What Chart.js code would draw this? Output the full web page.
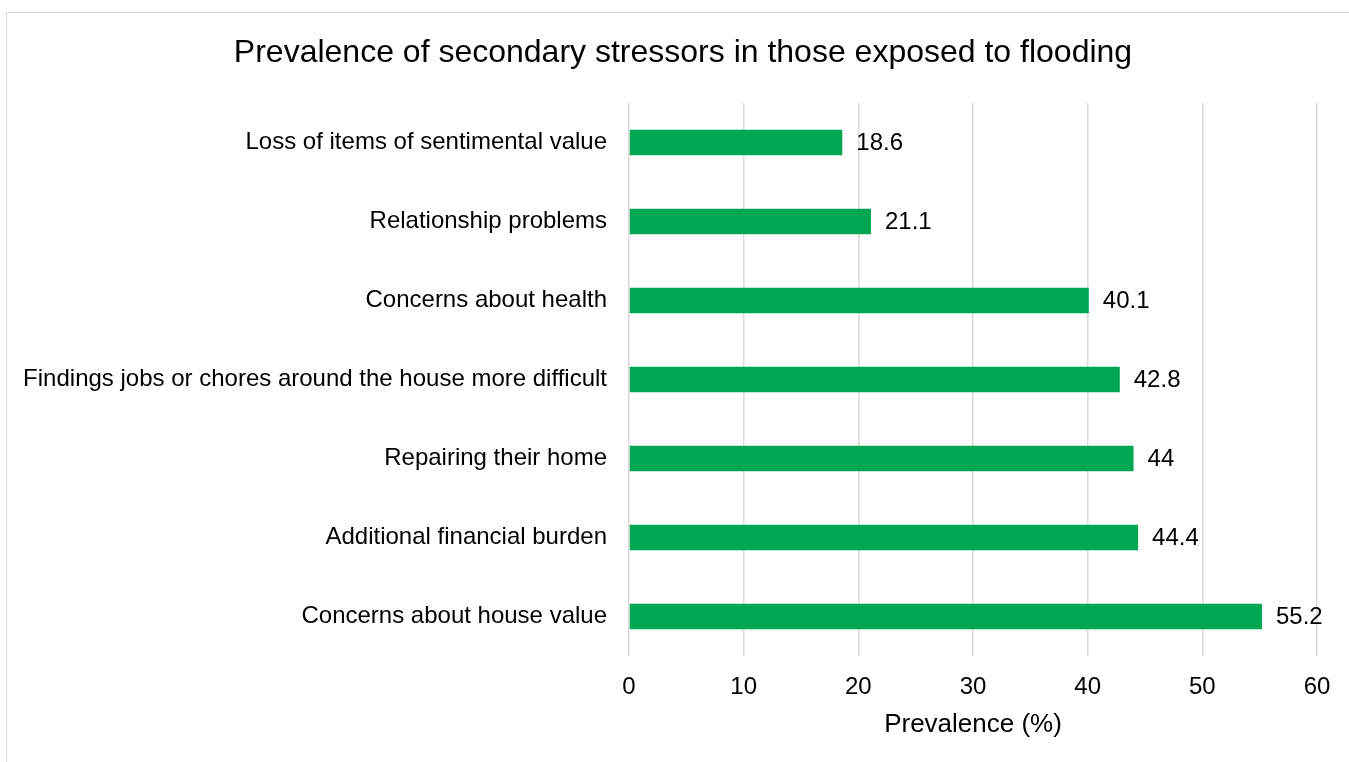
<!DOCTYPE html>
<html>
<head>
<meta charset="utf-8">
<script src="https://cdn.jsdelivr.net/npm/chart.js@4"></script>
<style>
  html, body { margin: 0; padding: 0; background: #fff; overflow: hidden; }
  #frame { position: absolute; left: 6px; top: 12px; width: 1400px; height: 800px; border: 1px solid #d9d9d9; }
  #wrap { position: absolute; left: 0; top: 0; width: 1349px; height: 762px; }
</style>
</head>
<body>
<div id="frame"></div>
<div id="wrap"><canvas id="stressChart"></canvas></div>
<script>
const categories = [
  'Loss of items of sentimental value',
  'Relationship problems',
  'Concerns about health',
  'Findings jobs or chores around the house more difficult',
  'Repairing their home',
  'Additional financial burden',
  'Concerns about house value'
];
const prevalence = [18.6, 21.1, 40.1, 42.8, 44, 44.4, 55.2];
const xTicks = [0, 10, 20, 30, 40, 50, 60];
const chartTitle = 'Prevalence of secondary stressors in those exposed to flooding';

const fontFamily = "'Liberation Sans', Arial, sans-serif";

// title is centred on the outer frame, not on the canvas, so draw it ourselves
const frameTitle = {
  id: 'frameTitle',
  afterDraw(chart) {
    const ctx = chart.ctx;
    ctx.save();
    ctx.font = `32px ${fontFamily}`;
    ctx.fillStyle = '#000';
    ctx.textAlign = 'center';
    ctx.textBaseline = 'middle';
    ctx.fillText(chartTitle, 683, 53);
    ctx.restore();
  }
};

// draws the value to the right of each bar
const valueLabels = {
  id: 'valueLabels',
  afterDatasetsDraw(chart) {
    const ctx = chart.ctx;
    const meta = chart.getDatasetMeta(0);
    ctx.save();
    ctx.font = `24px ${fontFamily}`;
    ctx.fillStyle = '#000';
    ctx.textAlign = 'left';
    ctx.textBaseline = 'middle';
    meta.data.forEach((bar, i) => {
      ctx.fillText(String(prevalence[i]), bar.x + 14, bar.y + 1);
    });
    ctx.restore();
  }
};

new Chart(document.getElementById('stressChart'), {
  type: 'bar',
  data: {
    labels: categories,
    datasets: [{
      label: 'Prevalence',
      data: prevalence,
      backgroundColor: '#00A651',
      borderWidth: 0,
      categoryPercentage: 1,
      barPercentage: 0.32
    }]
  },
  options: {
    indexAxis: 'y',
    responsive: true,
    maintainAspectRatio: false,
    animation: false,
    layout: { padding: { left: 0, right: 32, top: 103, bottom: 0 } },
    plugins: {
      legend: { display: false },
      tooltip: { enabled: false },
      title: { display: false }
    },
    scales: {
      x: {
        min: 0,
        max: 60,
        afterBuildTicks(scale) {
          scale.ticks = xTicks.map(v => ({ value: v }));
        },
        afterFit(scale) { scale.height = 106; },
        grid: { color: '#d9d9d9', lineWidth: 1.5, drawTicks: false },
        border: { display: false },
        ticks: {
          color: '#000',
          padding: 17,
          font: { family: fontFamily, size: 24 }
        },
        title: {
          display: true,
          text: 'Prevalence (%)',
          color: '#000',
          font: { family: fontFamily, size: 26 },
          padding: { top: 4, bottom: 22 }
        }
      },
      y: {
        afterFit(scale) { scale.width = 629; },
        grid: { display: false, drawTicks: false },
        border: { display: false },
        ticks: {
          color: '#000',
          padding: 22,
          font: { family: fontFamily, size: 24 }
        }
      }
    }
  },
  plugins: [valueLabels, frameTitle]
});
</script>
</body>
</html>
